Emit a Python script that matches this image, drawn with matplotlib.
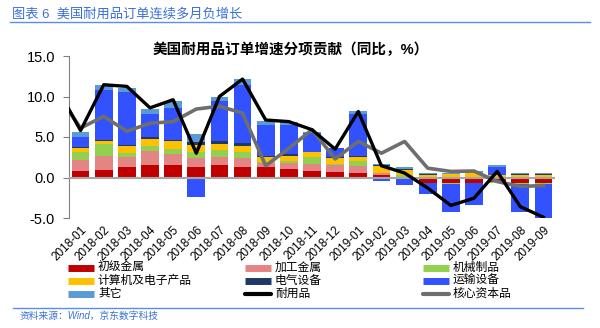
import numpy as np
import matplotlib.pyplot as plt
from matplotlib.lines import Line2D

plt.rcParams['font.family'] = ['Liberation Sans', 'Noto Sans CJK SC']

months = ['2018-01', '2018-02', '2018-03', '2018-04', '2018-05', '2018-06', '2018-07',
          '2018-08', '2018-09', '2018-10', '2018-11', '2018-12', '2019-01', '2019-02',
          '2019-03', '2019-04', '2019-05', '2019-06', '2019-07', '2019-08', '2019-09']

# contributions (pp)
primary_metals = [0.75, 0.95, 1.3, 1.5, 1.5, 1.35, 1.5, 1.35, 1.35, 1.0, 0.8, 0.65, 0.6,
                  0.35, 0.0, -0.7, -0.7, -0.7, -0.55, -0.7, -0.7]
fabricated_metals = [1.4, 1.75, 1.2, 1.75, 1.4, 1.05, 1.05, 1.05, 0.45, 0.8, 0.85, 0.9, 0.8,
                     0.25, 0.05, 0.0, 0.0, 0.0, 0.05, 0.0, 0.0]
machinery = [0.95, 1.4, 0.55, 0.65, 0.6, 0.7, 0.85, 0.8, 0.1, 0.2, 0.85, 0.1, 0.6,
             0.0, 0.3, 0.0, -0.1, 0.0, -0.15, -0.15, -0.15]
computers = [0.6, 0.45, 0.85, 0.9, 0.95, 0.9, 0.75, 0.7, 0.6, 0.7, 0.65, 0.7, 0.5,
             0.8, 0.6, 0.35, 0.4, 0.5, 0.25, 0.35, 0.35]
electrical = [0.05, 0.1, 0.1, 0.2, 0.2, 0.4, 0.3, 0.35, 0.15, 0.15, 0.05, 0.15, 0.2,
              0.15, 0.1, 0.05, 0.05, 0.05, 0.05, 0.05, 0.05]
transport = [1.3, 6.2, 6.55, 2.8, 3.95, -2.4, 4.95, 7.2, 3.8, 3.65, 2.3, 1.1, 5.15,
             -0.4, -0.9, -1.3, -3.4, -2.7, 1.0, -3.45, -4.5]
other = [0.6, 0.55, 0.55, 0.7, 0.9, 1.0, 0.6, 0.7, 0.55, 0.35, 0.1, 0.1, 0.3,
         0.15, 0.3, 0.15, 0.15, 0.2, 0.2, 0.15, 0.2]

# line series start one month earlier (2017-12), clipped at the left edge
line_months = ['2017-12'] + months
durable_goods = [11.0, 5.8, 11.45, 11.25, 8.6, 9.6, 3.0, 10.0, 12.15, 7.1, 6.9, 5.9, 3.5,
                 8.15, 1.45, 0.55, -1.3, -3.45, -2.55, 0.75, -3.6, -4.9]
core_capital = [10.3, 6.1, 7.55, 5.7, 6.7, 6.9, 8.45, 8.8, 7.95, 1.45, 3.6, 5.9, 2.3,
                4.45, 3.0, 4.45, 1.15, 0.75, 0.8, -0.5, -1.1, -1.0]

bar_names = ['初级金属', '加工金属', '机械制品', '计算机及电子产品', '电气设备', '运输设备', '其它']
bar_colors = ['#C00000', '#E38485', '#92D050', '#FFC000', '#1F3864', '#3352FF', '#5B9BD5']
bar_series = [primary_metals, fabricated_metals, machinery, computers, electrical,
              transport, other]

fig = plt.figure(figsize=(6.0, 3.28), dpi=100)
ax = fig.add_axes([69 / 600, 110 / 328, 486 / 600, 162 / 328])

x = np.arange(len(months))
pos_base = np.zeros(len(months))
neg_base = np.zeros(len(months))
for vals, col in zip(bar_series, bar_colors):
    v = np.array(vals)
    bottom = np.where(v >= 0, pos_base, neg_base)
    ax.bar(x, v, bottom=bottom, width=0.77, color=col, linewidth=0, zorder=2)
    pos_base += np.where(v >= 0, v, 0)
    neg_base += np.where(v < 0, v, 0)

ax.axhline(0, color='#A6A6A6', lw=1.5, zorder=3)

lx = np.arange(-1, len(months))
ax.plot(lx, core_capital, color='#6E6E6E', lw=2.6, zorder=4)
ax.plot(lx, durable_goods, color='black', lw=2.4, zorder=5)

ax.set_xlim(-0.5, len(months) - 0.5)
ax.set_ylim(-5, 15)
ax.set_yticks([-5, 0, 5, 10, 15])
ax.set_yticklabels(['%.1f' % t for t in [-5, 0, 5, 10, 15]], fontsize=10.5)
ax.tick_params(axis='y', length=4, color='#808080', pad=6)
ax.set_xticks(x)
ax.set_xticklabels(months, rotation=45, ha='right', va='top', rotation_mode='anchor',
                   fontsize=8.5)
ax.tick_params(axis='x', length=0, pad=4)
for s in ['top', 'right', 'bottom']:
    ax.spines[s].set_visible(False)
ax.spines['left'].set_color('#808080')

# titles
fig.text(12 / 600, 1 - 14 / 328, '图表 6  美国耐用品订单连续多月负增长', fontsize=9.5,
         color='#3A6FD8', va='center', ha='left')
fig.add_artist(Line2D([10 / 600, 590 / 600], [1 - 22 / 328, 1 - 22 / 328],
                      color='#5B8DEF', lw=1))
fig.text(291 / 600, 1 - 50 / 328, '美国耐用品订单增速分项贡献（同比，%）', fontsize=10.5,
         fontweight='bold', ha='center', va='center')

# legend, laid out row by row like the original
legend_names = bar_names + ['耐用品', '核心资本品']
legend_colors = bar_colors + ['black', '#6E6E6E']
col_x = [68, 245, 423]
row_y = [268, 281, 294]
for i, (name, col) in enumerate(zip(legend_names, legend_colors)):
    cx = col_x[i % 3]
    cy = 1 - row_y[i // 3] / 328
    if i < 7:
        lw, cap = 5, 'butt'
    else:
        lw, cap = 3, 'round'
    fig.add_artist(Line2D([cx / 600, (cx + 26) / 600], [cy, cy], color=col, lw=lw,
                          solid_capstyle=cap))
    fig.text((cx + 30) / 600, cy, name, fontsize=8.5, va='center', ha='left')

# source
fig.add_artist(Line2D([13 / 600, 583 / 600], [1 - 308 / 328, 1 - 308 / 328],
                      color='#5B8DEF', lw=1))
fig.text(20 / 600, 1 - 316 / 328, '资料来源：Wind，京东数字科技', fontsize=7,
         color='#3A6FD8', style='italic', va='center', ha='left')

fig.savefig('out.png', dpi=100)
